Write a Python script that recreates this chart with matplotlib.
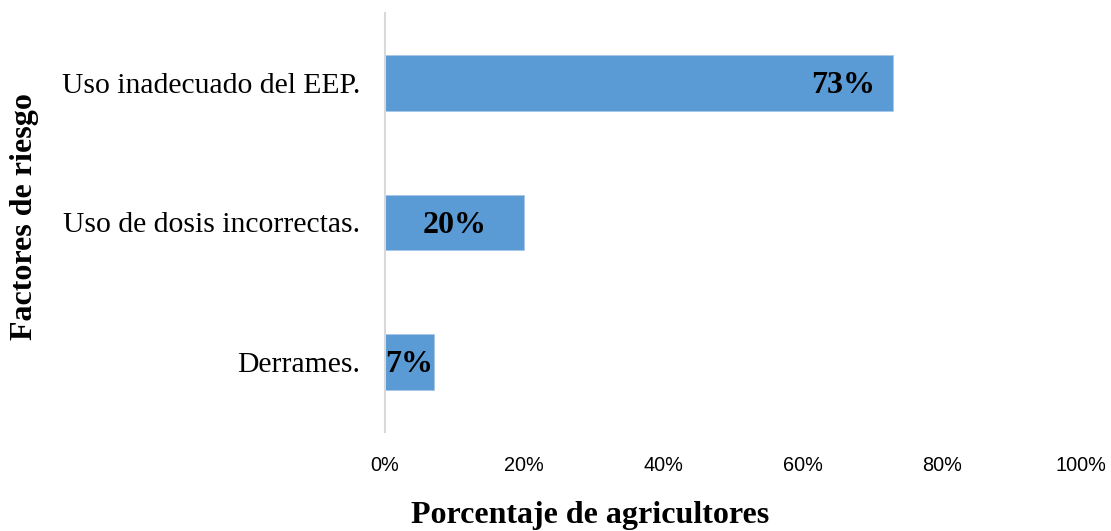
import matplotlib
matplotlib.use("Agg")
import matplotlib.pyplot as plt
from matplotlib.ticker import FuncFormatter

categories = ["Derrames.", "Uso de dosis incorrectas.", "Uso inadecuado del EEP."]
values = [7, 20, 73]
x_ticks = [0, 20, 40, 60, 80, 100]

fig = plt.figure(figsize=(11.11, 5.31), dpi=100)
ax = fig.add_axes([385/1111, (531-432)/531, (1081-385)/1111, (432-13)/531])

ypos = list(range(len(categories)))
ax.barh(ypos, values, height=0.4, color="#5B9BD5", edgecolor="#A9C8EA", linewidth=0.6)
ax.set_xlim(0, 100)
ax.set_ylim(-0.5, len(categories) - 0.5)
ax.set_yticks(ypos)
ax.set_yticklabels(categories, family="Liberation Serif", fontsize=21.3)
ax.set_xticks(x_ticks)
ax.xaxis.set_major_formatter(FuncFormatter(lambda v, p: f"{int(v)}%"))
for lab in ax.get_xticklabels():
    lab.set_family("Liberation Sans")
    lab.set_fontsize(14.3)
ax.tick_params(axis="both", length=0)
ax.tick_params(axis="x", pad=17)
ax.tick_params(axis="y", pad=18)

for s in ["top", "right", "bottom"]:
    ax.spines[s].set_visible(False)
ax.spines["left"].set_color("#D9D9D9")
ax.spines["left"].set_linewidth(1.5)

for y, v in zip(ypos, values):
    if v > 50:
        ax.text(v - 2.6, y - 0.02, f"{v}%", ha="right", va="center", family="Liberation Serif",
                fontweight="bold", fontsize=23)
    else:
        ax.text(v / 2, y - 0.02, f"{v}%", ha="center", va="center", family="Liberation Serif",
                fontweight="bold", fontsize=23)

fig.text(590/1111, 1 - 515/531, "Porcentaje de agricultores", ha="center", va="center",
         family="Liberation Serif", fontweight="bold", fontsize=23)
fig.text(25/1111, 1 - 217/531, "Factores de riesgo", ha="center", va="center", rotation=90,
         family="Liberation Serif", fontweight="bold", fontsize=23)

fig.savefig("out.png", dpi=100)
